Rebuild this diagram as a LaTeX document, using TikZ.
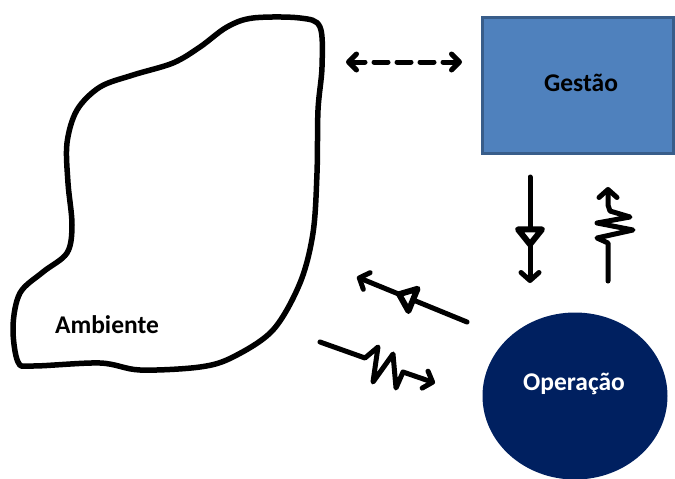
\documentclass[tikz,border=0pt]{standalone}
\usepackage{fontspec}
\setmainfont{Carlito}
\usetikzlibrary{arrows.meta,decorations.markings,shapes.geometric}
\definecolor{boxblue}{HTML}{4F81BD}
\definecolor{boxedge}{HTML}{385D8A}
\definecolor{navy}{HTML}{002060}

\tikzset{
  caption/.style={font=\fontsize{25.5}{30}\selectfont\bfseries, inner sep=0pt, anchor=base},
  stroke/.style={line width=5pt, line cap=round, line join=round},
  barb/.style={-{Straight Barb[length=8pt,width=18pt,round]}},
  midtri/.style={postaction={decorate},
    decoration={markings, mark=at position #1 with {
      \draw[line width=6pt, line join=round, fill=white]
        (8pt,0) -- (-7pt,12pt) -- (-7pt,-12pt) -- cycle;}}},
}

\begin{document}
\begin{tikzpicture}[x=1pt,y=-1pt]
\useasboundingbox (0,0) rectangle (675,479);

% environment outline, hand drawn
\draw[line width=5.5pt, line join=round] plot[smooth cycle, tension=0.55] coordinates {
  (320,27) (300,18) (253,18) (227,27) (200,47) (173,63) (133,75) (100,87)
  (77,110) (67,143) (68,183) (72,225) (67,253) (43,272) (20,293) (13,327)
  (18,362) (33,366) (100,363) (140,370) (200,367) (233,357) (273,330)
  (300,283) (313,233) (317,173) (318,110) (322,67)};
\node[caption] (ambiente) at (107,333) {Ambiente};

% management box
\node[draw=boxedge, line width=2.5pt, fill=boxblue, minimum width=191pt,
      minimum height=136pt, anchor=north west, inner sep=0pt] (gestao) at (481,16) {};
\node[caption] (gestaoText) at (581,91) {Gestão};

% operation ellipse
\node[ellipse, fill=navy, minimum width=185pt, minimum height=167pt, inner sep=0pt]
  (operacao) at (575,396) {};
\node[caption, text=white] (operacaoText) at (574,390) {Operação};

% endpoints of the flows
\coordinate (envR) at (346,62);
\coordinate (gesL) at (462,62);
\coordinate (downTop) at (530,177);
\coordinate (downTip) at (530,283);
\coordinate (upBase) at (608,281);
\coordinate (upTip) at (608,187);
\coordinate (diagStart) at (467,322);
\coordinate (diagTip) at (357,277);
\coordinate (zzStart) at (320,342);
\coordinate (zzTip) at (435,383);

% environment <-> management
\draw[stroke, dash pattern=on 14pt off 9pt,
      {Straight Barb[length=8pt,width=16pt,round]}-{Straight Barb[length=8pt,width=16pt,round]}]
  (envR) -- (gesL);

% management -> operation (control)
\draw[stroke, barb, midtri=0.56] (downTop) -- (downTip);

% operation -> management (information)
\draw[stroke, barb] (upBase) -- (608,243) -- (597,238) -- (633,230) -- (597,223)
  -- (630,217) -- (610,211) -- (608,205) -- (upTip);

% operation -> environment
\draw[stroke, barb, midtri=0.55] (diagStart) -- (diagTip);

% environment -> operation
\draw[stroke, barb] (zzStart) -- (365,358) -- (378,347) -- (373,382) -- (393,354)
  -- (396,388) -- (403,372) -- (zzTip);
\end{tikzpicture}
\end{document}
